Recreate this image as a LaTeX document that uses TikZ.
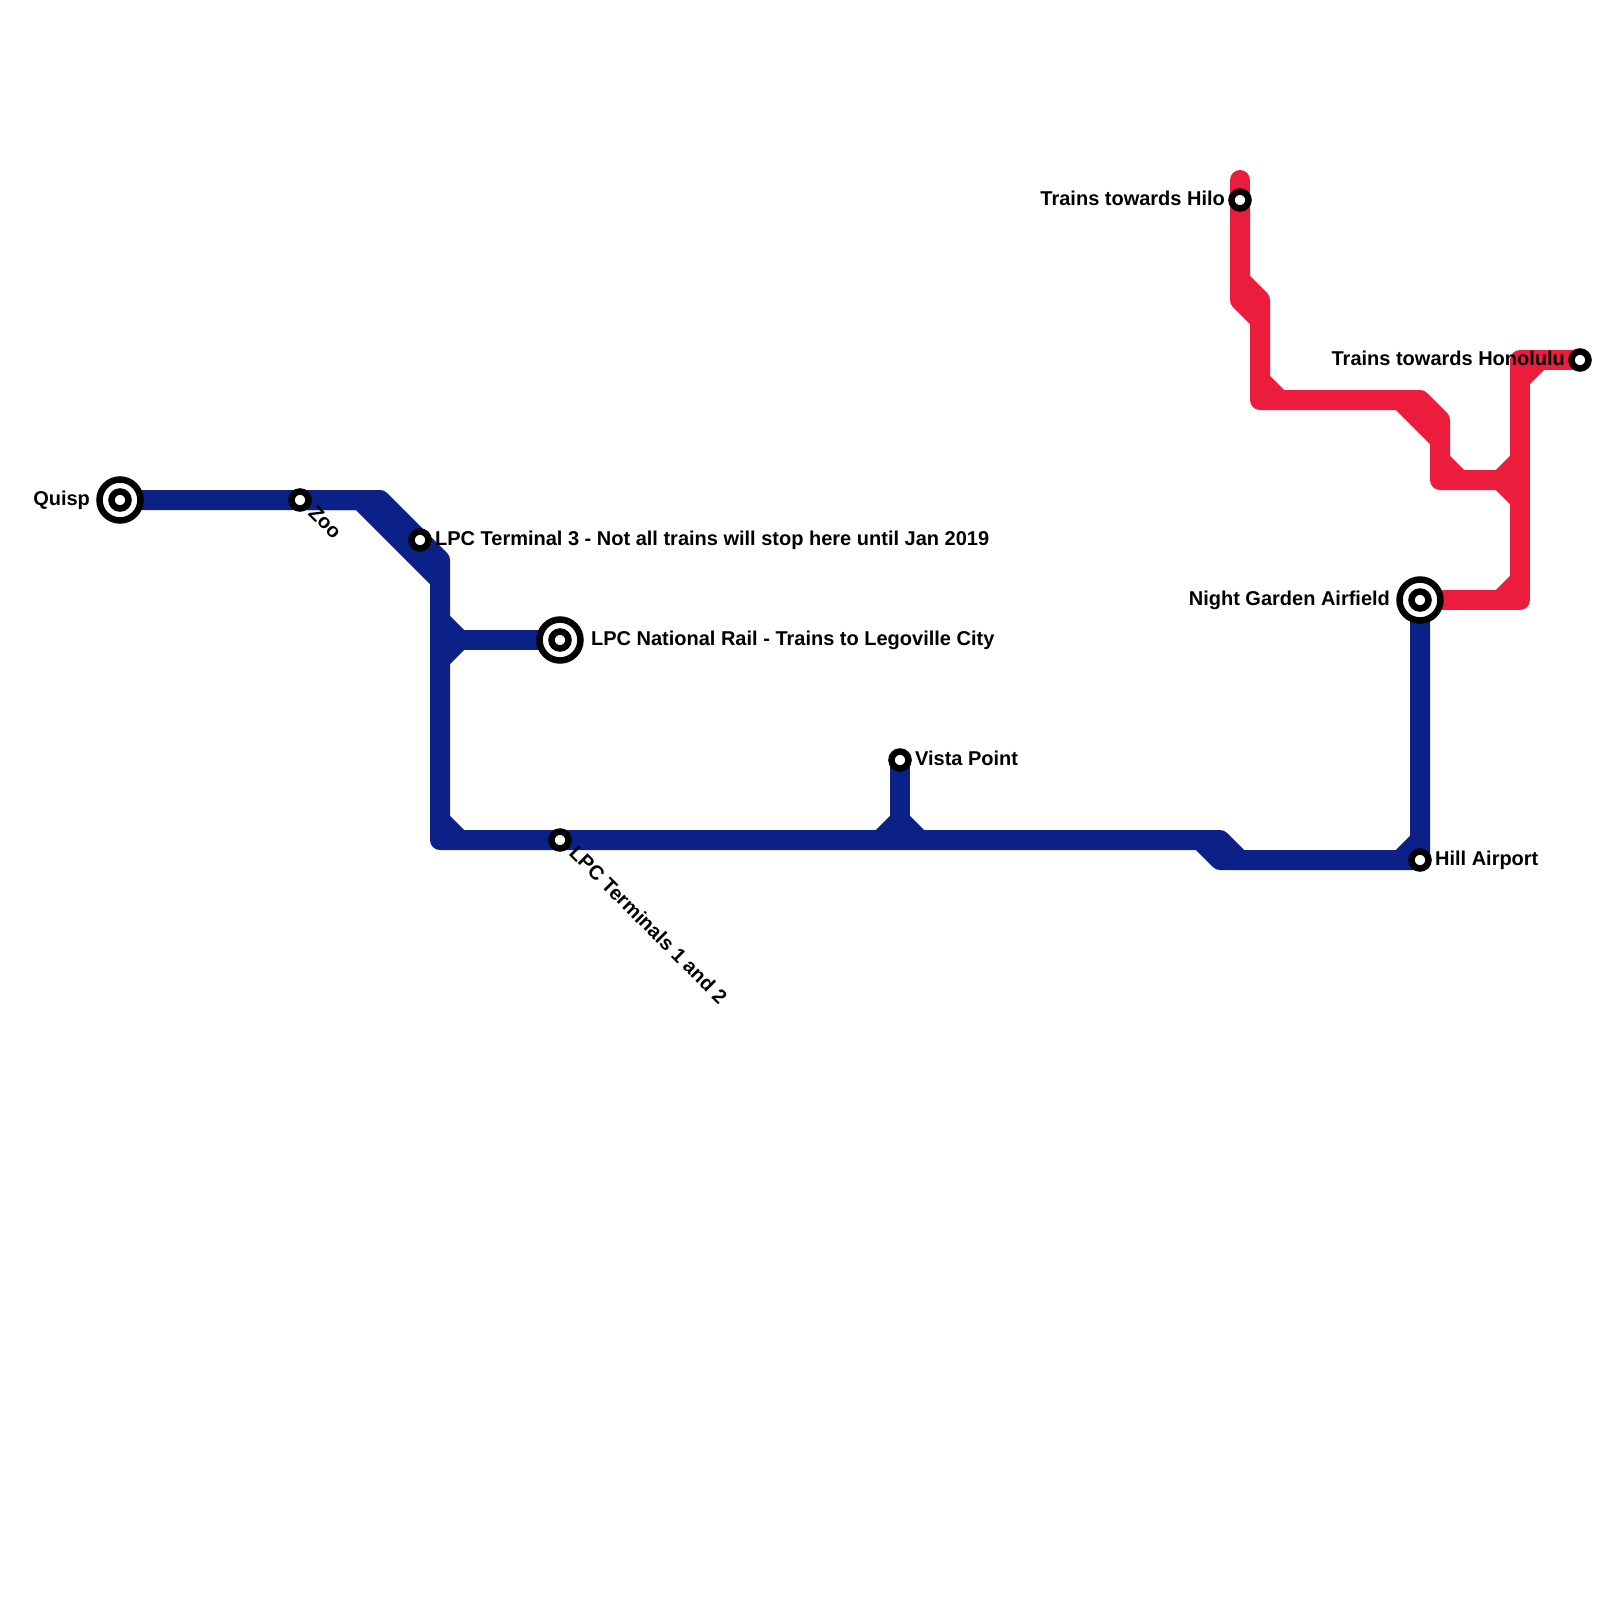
\documentclass[tikz,border=0pt]{standalone}
\usepackage{fontspec}
\setmainfont{Liberation Sans}
\usetikzlibrary{positioning,backgrounds}
\definecolor{blueline}{HTML}{0C2188}
\definecolor{redline}{HTML}{EC1C3D}
\tikzset{
  stop/.style={circle,draw=black,fill=white,line width=0.13cm,minimum size=0.34cm,inner sep=0pt},
  bigstop/.style={circle,draw=black,fill=white,line width=0.13cm,minimum size=0.82cm,inner sep=0pt},
  stopname/.style={inner sep=0pt,font=\bfseries\fontsize{11.38pt}{13pt}\selectfont},
  blue rail/.style={draw=blueline,line width=0.4cm,line join=round},
  red rail/.style={draw=redline,line width=0.4cm,line join=round},
}
\begin{document}
\begin{tikzpicture}[x=0.02cm,y=-0.02cm]
\useasboundingbox (0,0) rectangle (1600,1600);

\node (quispring) [bigstop] at (120,500) {};
\node (quisp) [stop] at (120,500) {};
\node (zoo) [stop] at (300,500) {};
\node (terminalthree) [stop] at (420,540) {};
\node (nationalring) [bigstop] at (560,640) {};
\node (national) [stop] at (560,640) {};
\node (terminals) [stop] at (560,840) {};
\node (vista) [stop] at (900,760) {};
\node (hill) [stop] at (1420,860) {};
\node (gardenring) [bigstop] at (1420,600) {};
\node (garden) [stop] at (1420,600) {};
\node (hilo) [stop] at (1240,200) {};
\node (honolulu) [stop] at (1580,360) {};

\node (quispname) [stopname,left=0.12cm of quispring] {Quisp};
\node (zooname) [stopname,rotate=-45,anchor=west] at (312,509) {Zoo};
\node (terminalthreename) [stopname,right=0.06cm of terminalthree] {LPC Terminal 3 - Not all trains will stop here until Jan 2019};
\node (nationalname) [stopname,right=0.14cm of nationalring] {LPC National Rail - Trains to Legoville City};
\node (terminalsname) [stopname,rotate=-45,anchor=west] at (573,849) {LPC Terminals 1 and 2};
\node (vistaname) [stopname,right=0.06cm of vista,yshift=0.04cm] {Vista Point};
\node (hillname) [stopname,right=0.06cm of hill] {Hill Airport};
\node (gardenname) [stopname,left=0.12cm of gardenring] {Night Garden Airfield};
\node (hiloname) [stopname,left=0.06cm of hilo,yshift=0.04cm] {Trains towards Hilo};
\node (honoluluname) [stopname,left=0.06cm of honolulu,yshift=0.04cm] {Trains towards Honolulu};

\begin{pgfonlayer}{background}
\draw[blue rail] (quisp.center) -- (zoo.center) -- (360,500) -- (440,580) -- (440,840) -- (terminals.center) -- (1200,840) -- (1220,860) -- (hill.center) -- (garden.center);
\draw[blue rail] (zoo.center) -- (380,500) -- (440,560) -- (440,580);
\draw[blue rail] (440,620) -- (460,640) -- (440,660);
\draw[blue rail] (460,640) -- (national.center);
\draw[blue rail] (440,820) -- (460,840);
\draw[blue rail] (vista.center) -- (900,840);
\draw[blue rail] (880,840) -- (900,820) -- (920,840);
\draw[blue rail] (1200,840) -- (1220,840) -- (1240,860);
\draw[blue rail] (1400,860) -- (1420,840);

\draw[red rail,line cap=round] (1240,180) -- (hilo.center);
\draw[red rail] (hilo.center) -- (1240,300) -- (1260,320) -- (1260,400) -- (1400,400) -- (1440,440) -- (1440,480) -- (1500,480);
\draw[red rail] (1240,280) -- (1260,300) -- (1260,320);
\draw[red rail] (1260,380) -- (1280,400);
\draw[red rail] (1400,400) -- (1420,400) -- (1440,420) -- (1440,440);
\draw[red rail] (1440,460) -- (1460,480);
\draw[red rail] (1500,480) -- (1520,460);
\draw[red rail] (1500,480) -- (1520,500);
\draw[red rail] (garden.center) -- (1520,600) -- (1520,360) -- (honolulu.center);
\draw[red rail] (1500,600) -- (1520,580);
\draw[red rail] (1520,380) -- (1540,360);
\end{pgfonlayer}
\end{tikzpicture}
\end{document}
